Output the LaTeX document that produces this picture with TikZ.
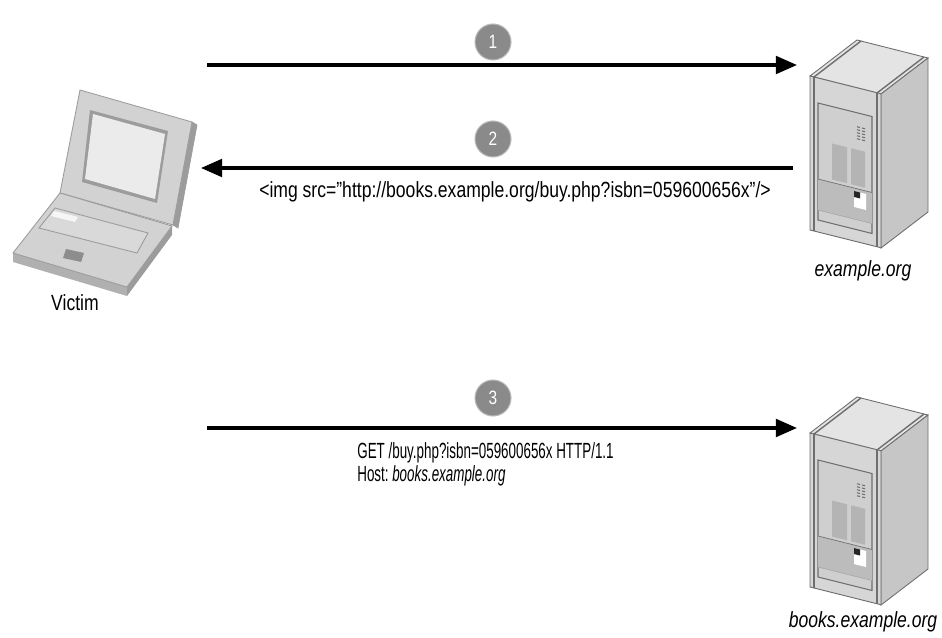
\documentclass[tikz,border=0pt]{standalone}
\usepackage{fontspec}
\setmainfont{Liberation Sans}[FakeStretch=0.80]
\newfontfamily\narrowsans{Liberation Sans}[FakeStretch=0.61]
\usetikzlibrary{arrows.meta}

\definecolor{numgray}{HTML}{8A8A8A}
\definecolor{srvline}{HTML}{6E6E6E}
\definecolor{srvtop}{HTML}{E4E4E4}
\definecolor{srvfront}{HTML}{D6D6D6}
\definecolor{srvside}{HTML}{C6C6C6}
\definecolor{srvpanel}{HTML}{CFCFCF}
\definecolor{srvwin}{HTML}{B4B4B4}
\definecolor{lapbody}{HTML}{D2D2D2}
\definecolor{lapedge}{HTML}{9C9C9C}
\definecolor{lapscreen}{HTML}{EBEBEB}

\tikzset{
  msg/.style={line width=1.9pt, -{Triangle[length=12pt,width=10pt]}},
  numdot/.style={circle, fill=numgray, draw=numgray!60, line width=0.6pt,
    minimum size=0.72cm, inner sep=0pt, text=white,
    font=\fontsize{11}{11}\selectfont},
  lbl/.style={inner sep=0pt, font=\fontsize{12.5}{14}\selectfont},
  hostname/.style={lbl, font=\fontsize{12.5}{14}\selectfont\itshape},
  httpreq/.style={inner sep=0pt, align=left, font=\narrowsans\fontsize{12.5}{13}\selectfont},
  % 服务器机箱
  pics/server/.style={code={
    % 顶面
    \filldraw[fill=srvtop, draw=srvline, line width=0.5pt]
      (0,0) -- (71,18) -- (118,-18) -- (47,-36) -- cycle;
    \draw[srvline, line width=0.8pt] (4,1) -- (51,-35);
    \draw[srvline, line width=0.8pt] (67,17) -- (114,-19);
    % 侧面
    \begin{scope}[shift={(71,18)}, yslant=0.766]
      \filldraw[fill=srvside, draw=srvline, line width=0.5pt] (0,0) rectangle (47,154);
    \end{scope}
    % 正面
    \begin{scope}[yslant=-0.25]
      \filldraw[fill=srvfront, draw=srvline, line width=0.5pt] (0,0) rectangle (71,154);
      \draw[srvline, line width=0.8pt] (4,0) -- (4,154);
      \draw[srvline, line width=0.8pt] (67,0) -- (67,154);
      % 机箱门
      \filldraw[fill=srvpanel, draw=srvline, line width=0.6pt] (8,25) rectangle (62,142);
      \fill[srvwin!70!srvpanel] (8,101) rectangle (62,132);
      \draw[srvline, line width=0.4pt] (8,101) -- (62,101);
      \draw[srvline!60, line width=0.4pt] (8,132) -- (62,132);
      % 通风孔
      \foreach \r in {0,...,4} {
        \draw[srvline, line width=0.6pt] (47,39+3*\r) -- (50,39+3*\r);
        \draw[srvline, line width=0.6pt] (52,39+3*\r) -- (55,39+3*\r);
      }
      % 窗格
      \fill[srvwin] (22,62) rectangle (37,98);
      \fill[srvwin] (41,62) rectangle (55,98);
      % 插槽
      \fill[white] (44,104) rectangle (56,120);
      \fill[black!85] (44,104) rectangle (50,110);
    \end{scope}
  }}
}

\begin{document}
\begin{tikzpicture}[x=0.02cm, y=-0.02cm]
    \useasboundingbox (0,0) rectangle (942,638);

    % 笔记本电脑
    \filldraw[fill=lapedge, draw=lapedge] (192,122) -- (197,125) -- (178,228) -- (173,225) -- cycle;
    \filldraw[fill=lapbody, draw=lapedge, line width=0.5pt]
        (80,90) -- (192,122) -- (173,225) -- (60,193) -- cycle;
    \fill[lapedge] (90,110) -- (168,131) -- (157,203) -- (82,182) -- cycle;
    \fill[lapscreen] (93,114) -- (165,134) -- (155,199) -- (85,179) -- cycle;
    % 底座
    \fill[lapedge!80] (13,253) -- (127,287) -- (127,296) -- (13,262) -- cycle;
    \fill[lapedge] (127,287) -- (172,226) -- (172,235) -- (127,296) -- cycle;
    \filldraw[fill=lapbody, draw=lapedge, line width=0.5pt]
        (60,193) -- (172,226) -- (127,287) -- (13,253) -- cycle;
    \filldraw[fill=lapbody!85!white, draw=lapedge, line width=0.5pt]
        (55,208) -- (148,233) -- (137,253) -- (39,228) -- cycle;
    \fill[white!80!lapbody] (54,211) -- (78,217) -- (75,222) -- (51,216) -- cycle;
    \fill[lapedge!90!black] (66,249) -- (84,253) -- (81,262) -- (63,258) -- cycle;
    \node[lbl] (victim) at (75,303) {Victim};

    % 服务器
    \pic (srvA) at (810,76) {server};
    \node[hostname] (srvAname) at (863,271) {example.org};
    \pic (srvB) at (810,433) {server};
    \node[hostname] (srvBname) at (863,622) {books.example.org};

    % 请求与响应
    \coordinate (a1s) at (207,65);
    \coordinate (a1e) at (797,65);
    \coordinate (a2s) at (793,168);
    \coordinate (a2e) at (201,168);
    \coordinate (a3s) at (207,428);
    \coordinate (a3e) at (797,428);
    \draw[msg] (a1s) -- (a1e);
    \draw[msg] (a2s) -- (a2e);
    \draw[msg] (a3s) -- (a3e);

    \node[numdot] (n1) at (493,42) {1};
    \node[numdot] (n2) at (493,139) {2};
    \node[numdot] (n3) at (493,398) {3};

    \node[lbl] (imgtag) at (515,192) {<img src="http://books.example.org/buy.php?isbn=059600656x"/>};
    \node[httpreq, anchor=north west] (getreq) at (357,442)
        {GET /buy.php?isbn=059600656x HTTP/1.1\\Host:\,\textit{books.example.org}};
\end{tikzpicture}
\end{document}
